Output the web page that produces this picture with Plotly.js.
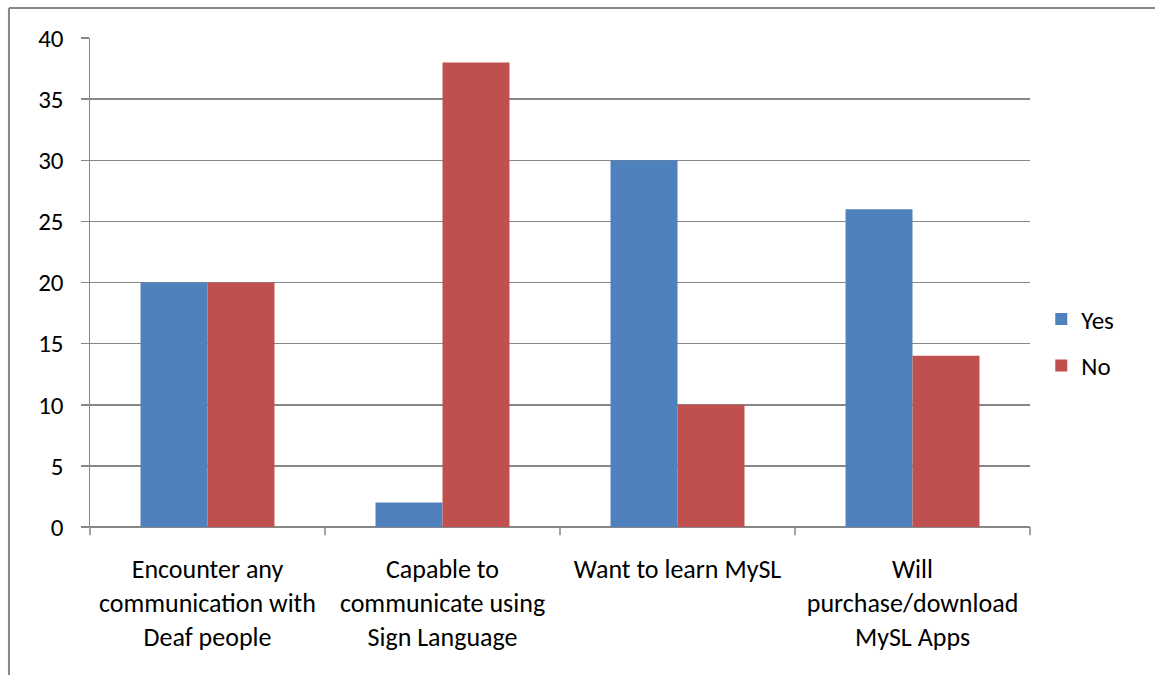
<!DOCTYPE html>
<html>
<head>
<meta charset="utf-8">
<script src="https://cdn.plot.ly/plotly-3.0.1.min.js"></script>
<style>
  html, body { margin: 0; padding: 0; background: #ffffff; }
  #chart { width: 1155px; height: 675px; }
</style>
</head>
<body>
<div id="chart"></div>
<script>
// Survey answers per question
const categories = [
  "Encounter any<br>communication with<br>Deaf people",
  "Capable to<br>communicate using<br>Sign Language",
  "Want to learn MySL<br> <br> ",
  "Will<br>purchase/download<br>MySL Apps"
];
const yesValues = [20, 2, 30, 26];
const noValues = [20, 38, 10, 14];
const yTicks = [0, 5, 10, 15, 20, 25, 30, 35, 40];

const fontFamily = "Carlito, Calibri, Lato, 'Liberation Sans', sans-serif";
const fontSize = 26;
const gridGray = "#878787";

const traces = [
  {
    type: "bar", name: "Yes", x: categories, y: yesValues,
    marker: { color: "#4F81BD" }, legendgroup: "yes", hoverinfo: "y"
  },
  {
    type: "bar", name: "No", x: categories, y: noValues,
    marker: { color: "#C0504D" }, legendgroup: "no", hoverinfo: "y"
  }
];

const layout = {
  width: 1155,
  height: 675,
  margin: { l: 90, r: 125, t: 38, b: 148 },
  paper_bgcolor: "#ffffff",
  plot_bgcolor: "#ffffff",
  barmode: "group",
  bargap: 0.43,
  bargroupgap: 0,
  font: { family: fontFamily, size: fontSize, color: "#000000" },
  xaxis: {
    type: "category",
    showgrid: false,
    showline: false,
    ticks: "outside",
    ticklen: 19,
    tickcolor: "rgba(0,0,0,0)",
    tickfont: { family: fontFamily, size: fontSize, color: "#000000" },
    automargin: false
  },
  yaxis: {
    range: [0, 40],
    tickvals: yTicks,
    ticktext: yTicks.map(String),
    showgrid: true,
    gridcolor: gridGray,
    gridwidth: 1.5,
    zeroline: true,
    zerolinecolor: gridGray,
    zerolinewidth: 1.5,
    showline: true,
    linecolor: gridGray,
    linewidth: 1.5,
    ticks: "outside",
    ticklen: 8,
    tickwidth: 1.5,
    tickcolor: gridGray,
    ticklabelstandoff: 12,
    tickfont: { family: fontFamily, size: 25, color: "#000000" },
    automargin: false
  },
  legend: {
    x: 1.012, xanchor: "left",
    y: 0.378, yanchor: "middle",
    traceorder: "grouped",
    tracegroupgap: 11,
    font: { family: fontFamily, size: 25, color: "#000000" },
    bgcolor: "rgba(0,0,0,0)"
  },
  shapes: [
    // category separator ticks below the x axis
    ...[0, 1, 2, 3, 4].map(i => ({
      type: "line", xref: "paper", yref: "paper",
      x0: i / 4, x1: i / 4, y0: 0, y1: -0.017,
      line: { color: gridGray, width: 1.5 }
    })),
    // outer frame (top and left edges)
    {
      type: "line", xref: "paper", yref: "paper",
      x0: -0.0862, x1: 1.2, y0: 1.0613, y1: 1.0613,
      line: { color: gridGray, width: 2 }
    },
    {
      type: "line", xref: "paper", yref: "paper",
      x0: -0.0862, x1: -0.0862, y0: 1.0613, y1: -0.35,
      line: { color: gridGray, width: 2 }
    }
  ]
};

Plotly.newPlot("chart", traces, layout, { displayModeBar: false, staticPlot: true });
</script>
</body>
</html>
